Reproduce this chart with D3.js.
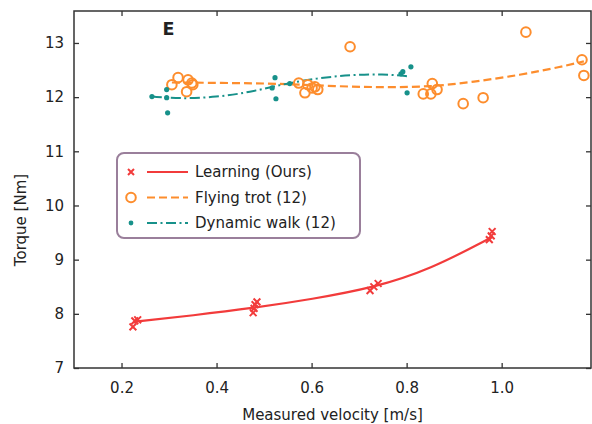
<!DOCTYPE html>
<html>
<head>
<meta charset="utf-8">
<script src="https://cdn.jsdelivr.net/npm/d3@7"></script>
<style>
  body { margin: 0; background: #fff; }
  svg text { font-family: "DejaVu Sans", sans-serif; fill: #222; }
</style>
</head>
<body>
<svg id="chart" width="592" height="424"></svg>
<script>
"use strict";

// measured points [velocity m/s, torque Nm]
var learningPts = [
  [0.224, 7.76], [0.228, 7.87], [0.234, 7.89],
  [0.477, 8.02], [0.479, 8.10], [0.481, 8.17], [0.485, 8.22],
  [0.723, 8.43], [0.731, 8.50], [0.740, 8.56],
  [0.974, 9.37], [0.978, 9.44], [0.980, 9.52]
];
var trotPts = [
  [0.306, 12.23], [0.319, 12.36], [0.340, 12.32], [0.350, 12.23], [0.337, 12.10], [0.348, 12.26],
  [0.573, 12.26], [0.592, 12.23], [0.607, 12.19], [0.586, 12.08], [0.613, 12.14], [0.601, 12.17],
  [0.681, 12.93], [0.835, 12.06], [0.851, 12.06], [0.854, 12.25], [0.864, 12.14],
  [0.919, 11.88], [0.961, 11.99], [1.051, 13.20], [1.169, 12.69], [1.173, 12.40]
];
var walkPts = [
  [0.264, 12.01], [0.295, 12.14], [0.295, 11.99], [0.297, 11.71],
  [0.523, 12.36], [0.525, 11.97], [0.517, 12.17], [0.554, 12.25],
  [0.788, 12.43], [0.792, 12.47], [0.809, 12.56], [0.801, 12.08]
];

// fitted curves
var learningFit = [[0.228, 7.855], [0.35, 7.97], [0.48, 8.11], [0.60, 8.27],
  [0.73, 8.48], [0.85, 8.82], [0.976, 9.40]];
var trotFit = [[0.306, 12.27], [0.45, 12.26], [0.545, 12.245], [0.65, 12.20], [0.75, 12.18],
  [0.85, 12.19], [0.94, 12.28], [1.04, 12.41], [1.125, 12.56], [1.173, 12.66]];
var walkFit = [[0.264, 12.01], [0.323, 11.97], [0.40, 12.0], [0.47, 12.09], [0.540, 12.24],
  [0.611, 12.35], [0.681, 12.41], [0.750, 12.43], [0.807, 12.38]];

var xTicks = [0.2, 0.4, 0.6, 0.8, 1.0];
var yTicks = [7, 8, 9, 10, 11, 12, 13];
var seriesNames = ["Learning (Ours)", "Flying trot (12)", "Dynamic walk (12)"];

var red = "#f23b3b", orange = "#fd8d2d", teal = "#17918a";

var svg = d3.select("#chart");
var L = 74, R = 591, T = 11, B = 368;

var x = d3.scaleLinear().domain([0.1, 1.188]).range([L, R]);
var y = d3.scaleLinear().domain([7, 13.59]).range([B, T]);

// axes with inward ticks on all sides
function styleAxis(g) {
  g.select(".domain").remove();
  g.selectAll(".tick line").attr("stroke", "#333").attr("stroke-width", 1.3);
  g.selectAll("text").style("font-size", "15px").attr("fill", "#222");
}
svg.append("g").attr("transform", "translate(0," + B + ")")
  .call(d3.axisBottom(x).tickValues(xTicks).tickFormat(d3.format(".1f")).tickSize(-5).tickPadding(14))
  .call(styleAxis);
svg.append("g").attr("transform", "translate(0," + T + ")")
  .call(d3.axisTop(x).tickValues(xTicks).tickFormat("").tickSize(-5))
  .call(styleAxis);
svg.append("g").attr("transform", "translate(" + L + ",0)")
  .call(d3.axisLeft(y).tickValues(yTicks).tickFormat(d3.format("d")).tickSize(-5).tickPadding(10))
  .call(styleAxis);
svg.append("g").attr("transform", "translate(" + R + ",0)")
  .call(d3.axisRight(y).tickValues(yTicks).tickFormat("").tickSize(-5))
  .call(styleAxis);

svg.append("rect")
  .attr("x", L).attr("y", T).attr("width", R - L).attr("height", B - T)
  .attr("fill", "none").attr("stroke", "#333").attr("stroke-width", 1.5);

// labels
svg.append("text").attr("x", (L + R) / 2).attr("y", 420)
  .attr("text-anchor", "middle").style("font-size", "15px").text("Measured velocity [m/s]");
svg.append("text").attr("transform", "translate(26,220) rotate(-90)")
  .attr("text-anchor", "middle").style("font-size", "15px").text("Torque [Nm]");
svg.append("text").attr("x", 168.5).attr("y", 35).attr("text-anchor", "middle")
  .style("font-size", "17.5px").style("font-weight", "bold").text("E");

var line = d3.line().x(function (d) { return x(d[0]); }).y(function (d) { return y(d[1]); })
  .curve(d3.curveBasis);

var plot = svg.append("g");

plot.append("path").datum(trotFit).attr("d", line)
  .attr("fill", "none").attr("stroke", orange).attr("stroke-width", 2.2).attr("stroke-dasharray", "8,4");
plot.append("path").datum(walkFit).attr("d", line)
  .attr("fill", "none").attr("stroke", teal).attr("stroke-width", 2).attr("stroke-dasharray", "10,3.5,2,3.5");
plot.append("path").datum(learningFit).attr("d", line)
  .attr("fill", "none").attr("stroke", red).attr("stroke-width", 2.2);

function drawX(g, cx, cy, s) {
  g.append("path")
    .attr("d", "M" + (cx - s) + "," + (cy - s) + "L" + (cx + s) + "," + (cy + s) +
      "M" + (cx - s) + "," + (cy + s) + "L" + (cx + s) + "," + (cy - s))
    .attr("stroke", red).attr("stroke-width", 2).attr("fill", "none");
}

plot.selectAll(".trot").data(trotPts).enter().append("circle")
  .attr("cx", function (d) { return x(d[0]); }).attr("cy", function (d) { return y(d[1]); })
  .attr("r", 4.8).attr("fill", "none").attr("stroke", orange).attr("stroke-width", 2);
plot.selectAll(".walk").data(walkPts).enter().append("circle")
  .attr("cx", function (d) { return x(d[0]); }).attr("cy", function (d) { return y(d[1]); })
  .attr("r", 2.6).attr("fill", teal);
learningPts.forEach(function (d) { drawX(plot, x(d[0]), y(d[1]), 3.4); });

// legend
var lg = svg.append("g");
lg.append("rect").attr("x", 117).attr("y", 153).attr("width", 243).attr("height", 85)
  .attr("rx", 7).attr("fill", "#fff").attr("stroke", "#9a7f9b").attr("stroke-width", 2);

var rows = [172, 197.5, 223];
var styles = [
  { color: red, dash: null },
  { color: orange, dash: "8,4" },
  { color: teal, dash: "10,3.5,2,3.5" }
];
rows.forEach(function (ry, i) {
  lg.append("line").attr("x1", 147).attr("x2", 188).attr("y1", ry).attr("y2", ry)
    .attr("stroke", styles[i].color).attr("stroke-width", 2.2)
    .attr("stroke-dasharray", styles[i].dash);
  lg.append("text").attr("x", 195).attr("y", ry).attr("dy", "0.35em")
    .style("font-size", "15px").text(seriesNames[i]);
});
drawX(lg, 131, rows[0], 3);
lg.append("circle").attr("cx", 131).attr("cy", rows[1]).attr("r", 4.8)
  .attr("fill", "none").attr("stroke", orange).attr("stroke-width", 2);
lg.append("circle").attr("cx", 131).attr("cy", rows[2]).attr("r", 2.4).attr("fill", teal);
</script>
</body>
</html>
